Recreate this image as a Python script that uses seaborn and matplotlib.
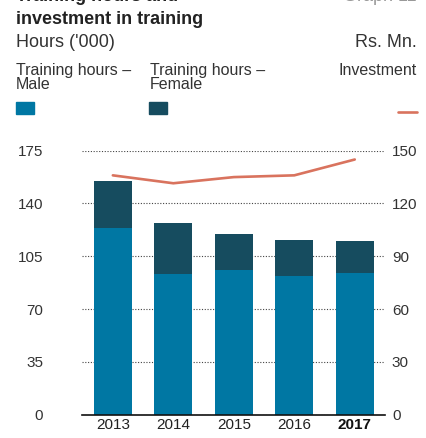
import numpy as np
import pandas as pd
import matplotlib.pyplot as plt
import seaborn as sns
from matplotlib.patches import Rectangle
from matplotlib.lines import Line2D

# ── data ─────────────────────────────────────────────
years        = ["2013", "2014", "2015", "2016", "2017"]
hours_male   = [124, 93, 96, 92, 94]      # '000 hours
hours_female = [31, 34, 24, 24, 21]       # '000 hours
investment   = [136, 131.5, 135, 136, 145]  # Rs. Mn.
left_ticks   = [0, 35, 70, 105, 140, 175]
right_ticks  = [0, 30, 60, 90, 120, 150]

MALE   = "#0077a3"
FEMALE = "#164c5f"
INVEST = "#d9735e"
TEXT   = "#333333"

sns.set_theme(style="white")
plt.rcParams["font.family"] = ["Liberation Sans", "DejaVu Sans"]

df = pd.DataFrame({"year": years, "male": hours_male, "female": hours_female})
df["total"] = df["male"] + df["female"]

W, H = 426, 438
def fx(x): return x / W
def fy(y): return 1 - y / H

fig = plt.figure(figsize=(W / 100, H / 100), dpi=100)
ax = fig.add_axes([fx(82), fy(414.7), (385 - 82) / W, (414.7 - 150.7) / H])

# stacked bars: total in female colour, male drawn over it
sns.barplot(data=df, x="year", y="total", color=FEMALE, width=0.63,
            saturation=1, linewidth=0, ax=ax, zorder=2)
sns.barplot(data=df, x="year", y="male", color=MALE, width=0.63,
            saturation=1, linewidth=0, ax=ax, zorder=2)

ax.set_ylim(0, 175)
ax.set_xlim(-0.51, 4.5)
ax.set_yticks(left_ticks)
ax.yaxis.grid(True, linestyle=(0, (1, 1.5)), color="#444444", linewidth=0.8)
ax.set_axisbelow(True)
ax.set_xlabel("")
ax.set_ylabel("")
ax.tick_params(axis="y", length=0, pad=28, labelsize=11, labelcolor=TEXT)
ax.tick_params(axis="x", length=0, pad=2.5, labelsize=11, labelcolor="#222222")
for s in ["left", "right", "top"]:
    ax.spines[s].set_visible(False)
ax.spines["bottom"].set_color("#111111")
ax.spines["bottom"].set_linewidth(1.2)
labels = ax.get_xticklabels()
labels[-1].set_fontweight("bold")
labels[-1].set_color("#111111")

# investment line on the right axis
ax2 = ax.twinx()
sns.lineplot(x=np.arange(len(years)), y=investment, color=INVEST,
             linewidth=1.9, ax=ax2)
ax2.set_ylim(0, 150)
ax2.set_xlim(-0.51, 4.5)
ax2.set_yticks(right_ticks)
ax2.tick_params(axis="y", length=0, pad=5, labelsize=11, labelcolor=TEXT)
for s in ax2.spines.values():
    s.set_visible(False)
ax2.grid(False)

# ── header text ───────────────────────────────────────
fig.text(fx(16), fy(1), "Training hours and", fontsize=13, fontweight="bold",
         color="#222222", va="baseline")
fig.text(fx(417), fy(1), "Graph 11", fontsize=13, color="#999999",
         va="baseline", ha="right")
fig.text(fx(16), fy(24), "investment in training", fontsize=13,
         fontweight="bold", color="#222222", va="baseline")
fig.text(fx(16), fy(47), "Hours ('000)", fontsize=13, color=TEXT, va="baseline")
fig.text(fx(417), fy(47), "Rs. Mn.", fontsize=13, color=TEXT, va="baseline",
         ha="right")

# ── legend ────────────────────────────────────────────
fig.text(fx(16), fy(63), "Training hours \u2013\nMale", fontsize=11.5,
         color=TEXT, va="top", linespacing=0.9)
fig.text(fx(150), fy(63), "Training hours \u2013\nFemale", fontsize=11.5,
         color=TEXT, va="top", linespacing=0.9)
fig.text(fx(417), fy(63), "Investment", fontsize=11.5, color=TEXT, va="top",
         ha="right")
fig.add_artist(Rectangle((fx(16), fy(114)), 18 / W, 12 / H, color=MALE,
                         transform=fig.transFigure))
fig.add_artist(Rectangle((fx(149), fy(114)), 18 / W, 12 / H, color=FEMALE,
                         transform=fig.transFigure))
fig.add_artist(Line2D([fx(398), fx(417)], [fy(112), fy(112)], color=INVEST,
                      linewidth=1.9, transform=fig.transFigure))

plt.savefig("out.png", dpi=100)
